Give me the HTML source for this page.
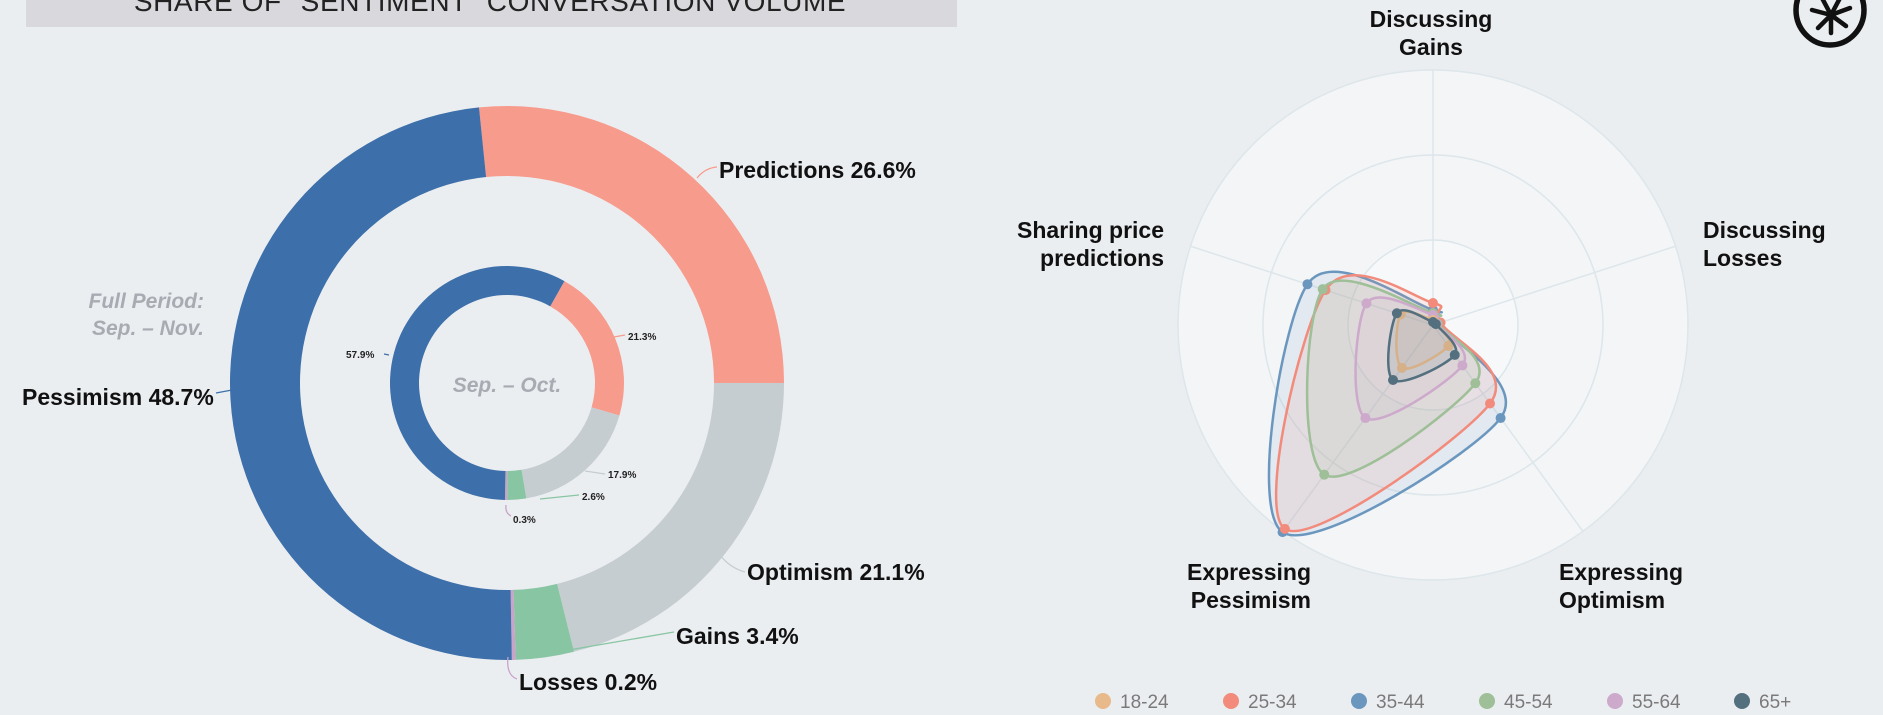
<!DOCTYPE html>
<html><head><meta charset="utf-8"><style>
html,body{margin:0;padding:0;background:#ebeef1;}
body{width:1883px;height:715px;overflow:hidden;position:relative;font-family:"Liberation Sans",sans-serif;}
svg{position:absolute;left:0;top:0;}
</style></head><body>
<svg id="s" width="1883" height="715" viewBox="0 0 1883 715" xmlns="http://www.w3.org/2000/svg">
<rect x="26" y="0" width="931" height="27" fill="#d8d8dd"/>
<text x="490" y="11" text-anchor="middle" font-size="28" letter-spacing="0.6" fill="#222" font-family="Liberation Sans, sans-serif">SHARE OF "SENTIMENT" CONVERSATION VOLUME</text>
<g id="donut"></g>
<g id="radar"></g>
<g font-family="Liberation Sans, sans-serif" font-weight="bold" font-size="23" fill="#111">
<text x="719" y="178">Predictions 26.6%</text>
<text x="22" y="405">Pessimism 48.7%</text>
<text x="747" y="580">Optimism 21.1%</text>
<text x="676" y="644">Gains 3.4%</text>
<text x="519" y="690">Losses 0.2%</text>
</g>
<g font-family="Liberation Sans, sans-serif" font-weight="bold" font-style="italic" font-size="21" fill="#a9abb3" text-anchor="end">
<text x="204" y="308">Full Period:</text>
<text x="204" y="335">Sep. – Nov.</text>
</g>
<text x="507" y="392" text-anchor="middle" font-family="Liberation Sans, sans-serif" font-weight="bold" font-style="italic" font-size="21" fill="#a9abb3">Sep. – Oct.</text>
<g font-family="Liberation Sans, sans-serif" font-weight="bold" font-size="10" fill="#222">
<text x="346" y="358">57.9%</text>
<text x="628" y="340">21.3%</text>
<text x="608" y="478">17.9%</text>
<text x="582" y="500">2.6%</text>
<text x="513" y="523">0.3%</text>
</g>
<g stroke-width="1.3" fill="none">
<path d="M697,178 Q705,168 717,167" stroke="#f79b8c"/>
<path d="M216,393 L232,390" stroke="#3d6faa"/>
<path d="M720,555 Q730,568 745,572" stroke="#c5cdd1"/>
<path d="M569,650 L674,632" stroke="#88c5a2"/>
<path d="M508,657 Q506,675 517,679" stroke="#c9a3c9"/>
<path d="M384,354 L389,355" stroke="#3d6faa"/>
<path d="M614,337 L625,335" stroke="#f79b8c"/>
<path d="M585,471 L605,474" stroke="#c5cdd1"/>
<path d="M540,499 L579,495" stroke="#88c5a2"/>
<path d="M506,505 Q505,513 511,516" stroke="#c9a3c9"/>
</g>
<g font-family="Liberation Sans, sans-serif" font-weight="bold" font-size="23" fill="#111">
<text x="1431" y="27" text-anchor="middle">Discussing</text>
<text x="1431" y="55" text-anchor="middle">Gains</text>
<text x="1164" y="238" text-anchor="end">Sharing price</text>
<text x="1164" y="266" text-anchor="end">predictions</text>
<text x="1703" y="238">Discussing</text>
<text x="1703" y="266">Losses</text>
<text x="1311" y="580" text-anchor="end">Expressing</text>
<text x="1311" y="608" text-anchor="end">Pessimism</text>
<text x="1559" y="580">Expressing</text>
<text x="1559" y="608">Optimism</text>
</g>
<g font-family="Liberation Sans, sans-serif" font-size="19" fill="#7a7a7a">
<circle cx="1103" cy="701" r="8" fill="#e8b98a"/><text x="1120" y="708">18-24</text>
<circle cx="1231" cy="701" r="8" fill="#f28b7b"/><text x="1248" y="708">25-34</text>
<circle cx="1359" cy="701" r="8" fill="#6b97bf"/><text x="1376" y="708">35-44</text>
<circle cx="1487" cy="701" r="8" fill="#9ebf97"/><text x="1504" y="708">45-54</text>
<circle cx="1615" cy="701" r="8" fill="#cda9cb"/><text x="1632" y="708">55-64</text>
<circle cx="1742" cy="701" r="8" fill="#54707f"/><text x="1759" y="708">65+</text>
</g>
<g stroke="#111" fill="none" stroke-linecap="round">
<ellipse cx="1830" cy="10" rx="34" ry="35" stroke-width="5.5"/>
<g stroke-width="4.5">
<line x1="1831" y1="15" x2="1831" y2="33"/>
<line x1="1831" y1="15" x2="1812" y2="10"/>
<line x1="1831" y1="15" x2="1850" y2="8"/>
<line x1="1831" y1="15" x2="1818" y2="28"/>
<line x1="1831" y1="15" x2="1846" y2="26"/>
<line x1="1831" y1="15" x2="1822" y2="-2"/>
<line x1="1831" y1="15" x2="1840" y2="-2"/>
</g>
</g>
</svg>
<script>
var NS="http://www.w3.org/2000/svg";
function el(p,t,a){var e=document.createElementNS(NS,t);for(var k in a)e.setAttribute(k,a[k]);p.appendChild(e);return e;}
function pt(cx,cy,r,a){a=a*Math.PI/180;return [cx+r*Math.sin(a),cy-r*Math.cos(a)];}
function arc(cx,cy,r0,r1,a0,a1){var p1=pt(cx,cy,r1,a0),p2=pt(cx,cy,r1,a1),p3=pt(cx,cy,r0,a1),p4=pt(cx,cy,r0,a0);var l=(a1-a0)>180?1:0;
return "M"+p1+" A"+r1+","+r1+" 0 "+l+" 1 "+p2+" L"+p3+" A"+r0+","+r0+" 0 "+l+" 0 "+p4+"Z";}
var d=document.getElementById("donut");
var cx=507,cy=383;
var outer=[[-5.8,90,"#f79b8c"],[90,166,"#c5cdd1"],[166,178.2,"#88c5a2"],[178.2,179,"#c9a3c9"],[179,354.2,"#3d6faa"]];
outer.forEach(function(s){el(d,"path",{d:arc(cx,cy,207,277,s[0],s[1]),fill:s[2]});});
var inner=[[29.4,106.1,"#f79b8c"],[106.1,170.5,"#c5cdd1"],[170.5,179.9,"#88c5a2"],[179.9,181,"#c9a3c9"],[181,389.4,"#3d6faa"]];
inner.forEach(function(s){el(d,"path",{d:arc(cx,cy,88,117,s[0],s[1]),fill:s[2]});});
var g=document.getElementById("radar");var RX=1433,RY=325;
el(g,"circle",{cx:RX,cy:RY,r:255,fill:"#f3f5f7",stroke:"#dde6ea","stroke-width":1.5});
el(g,"circle",{cx:RX,cy:RY,r:170,fill:"none",stroke:"#dde6ea","stroke-width":1.5});
el(g,"circle",{cx:RX,cy:RY,r:85,fill:"#f7f8fa",stroke:"#dde6ea","stroke-width":1.5});
for(var i=0;i<5;i++){var p=pt(RX,RY,255,i*72);el(g,"line",{x1:RX,y1:RY,x2:p[0],y2:p[1],stroke:"#dde6ea","stroke-width":1.5});}
var series=[
["#6b97bf",[15,6,115,256,132]],
["#f28b7b",[22,8,97,252,113]],
["#9ebf97",[12,5,72,185,116]],
["#cda9cb",[10,4,50,115,70]],
["#e8b98a",[5,3,26,53,34]],
["#54707f",[3,3,37,68,38]]];
series.forEach(function(s){
 var P=s[1].map(function(r,i){return pt(RX,RY,r,i*72);});var n=P.length;
 var path="M"+P[0];
 for(var i=0;i<n;i++){var p0=P[(i-1+n)%n],p1=P[i],p2=P[(i+1)%n],p3=P[(i+2)%n];var t=1/6;
  var c1=[p1[0]+(p2[0]-p0[0])*t,p1[1]+(p2[1]-p0[1])*t],c2=[p2[0]-(p3[0]-p1[0])*t,p2[1]-(p3[1]-p1[1])*t];
  path+=" C"+c1+" "+c2+" "+p2;}
 el(g,"path",{d:path+"Z",fill:s[0],"fill-opacity":0.12,stroke:s[0],"stroke-width":2.5});
 P.forEach(function(p){el(g,"circle",{cx:p[0],cy:p[1],r:5,fill:s[0]});});
});
</script>
</body></html>
